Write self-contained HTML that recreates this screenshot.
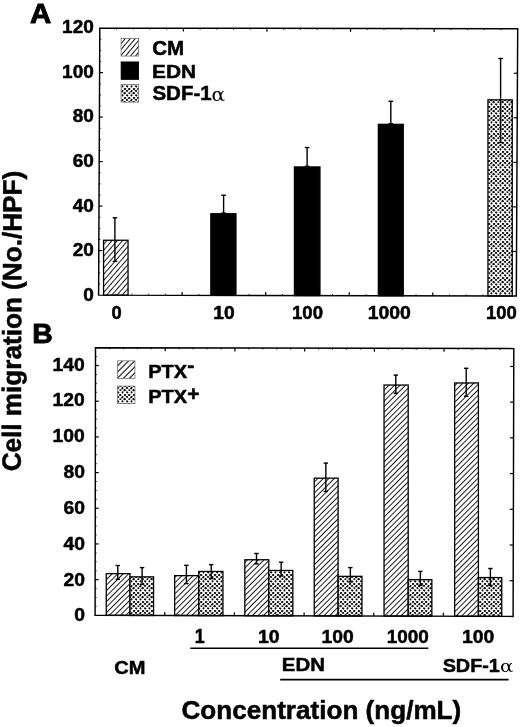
<!DOCTYPE html>
<html lang="en"><head><meta charset="utf-8"><title>Cell migration figure</title>
<style>
html,body{margin:0;padding:0;background:#fff;}
svg{display:block;filter:grayscale(1);}
</style></head><body>
<svg width="520" height="727" viewBox="0 0 520 727">
<defs>
<pattern id="hatch" width="3.9" height="3.9" patternUnits="userSpaceOnUse" patternTransform="rotate(-45)" shape-rendering="crispEdges">
<rect width="3.9" height="3.9" fill="#fff"/>
<line x1="-1" y1="1.95" x2="5" y2="1.95" stroke="#000" stroke-width="0.9"/>
</pattern>
<pattern id="hatchA" width="3.95" height="3.95" patternUnits="userSpaceOnUse" patternTransform="rotate(-49)" shape-rendering="crispEdges">
<rect width="3.95" height="3.95" fill="#fff"/>
<line x1="-1" y1="1.97" x2="5" y2="1.97" stroke="#000" stroke-width="0.9"/>
</pattern>
<pattern id="hatchLA" width="3.8" height="3.8" patternUnits="userSpaceOnUse" patternTransform="rotate(-50) translate(0 0.6)" shape-rendering="crispEdges">
<rect width="3.8" height="3.8" fill="#fff"/>
<line x1="-1" y1="1.9" x2="5" y2="1.9" stroke="#000" stroke-width="0.95"/>
</pattern>
<pattern id="hatchL" width="4.3" height="4.3" patternUnits="userSpaceOnUse" patternTransform="rotate(-45) translate(0 0)">
<rect width="4.3" height="4.3" fill="#fff"/>
<line x1="-1" y1="2.15" x2="5.3" y2="2.15" stroke="#000" stroke-width="1.1"/>
</pattern>
<pattern id="dots" width="9" height="9" patternUnits="userSpaceOnUse">
<rect width="9" height="9" fill="#fff"/>
<ellipse cx="1.02" cy="0.92" rx="1.26" ry="0.91" transform="rotate(0 1.02 0.92)" fill="#000"/>
<ellipse cx="1.02" cy="9.92" rx="1.26" ry="0.91" transform="rotate(0 1.02 9.92)" fill="#000"/>
<ellipse cx="10.02" cy="0.92" rx="1.26" ry="0.91" transform="rotate(0 10.02 0.92)" fill="#000"/>
<ellipse cx="10.02" cy="9.92" rx="1.26" ry="0.91" transform="rotate(0 10.02 9.92)" fill="#000"/>
<ellipse cx="5.38" cy="1.17" rx="1.33" ry="0.94" transform="rotate(-45 5.38 1.17)" fill="#000"/>
<ellipse cx="5.38" cy="10.17" rx="1.33" ry="0.94" transform="rotate(-45 5.38 10.17)" fill="#000"/>
<ellipse cx="3.34" cy="3.12" rx="1.12" ry="0.98" transform="rotate(0 3.34 3.12)" fill="#000"/>
<ellipse cx="-1.35" cy="3.21" rx="1.26" ry="1.09" transform="rotate(0 -1.35 3.21)" fill="#000"/>
<ellipse cx="7.65" cy="3.21" rx="1.26" ry="1.09" transform="rotate(0 7.65 3.21)" fill="#000"/>
<ellipse cx="1.18" cy="5.35" rx="1.16" ry="1.01" transform="rotate(45 1.18 5.35)" fill="#000"/>
<ellipse cx="10.18" cy="5.35" rx="1.16" ry="1.01" transform="rotate(45 10.18 5.35)" fill="#000"/>
<ellipse cx="5.50" cy="5.41" rx="1.13" ry="0.96" transform="rotate(90 5.50 5.41)" fill="#000"/>
<ellipse cx="3.18" cy="-1.08" rx="1.26" ry="0.97" transform="rotate(0 3.18 -1.08)" fill="#000"/>
<ellipse cx="3.18" cy="7.92" rx="1.26" ry="0.97" transform="rotate(0 3.18 7.92)" fill="#000"/>
<ellipse cx="-1.00" cy="-1.09" rx="1.25" ry="1.00" transform="rotate(0 -1.00 -1.09)" fill="#000"/>
<ellipse cx="-1.00" cy="7.91" rx="1.25" ry="1.00" transform="rotate(0 -1.00 7.91)" fill="#000"/>
<ellipse cx="8.00" cy="-1.09" rx="1.25" ry="1.00" transform="rotate(0 8.00 -1.09)" fill="#000"/>
<ellipse cx="8.00" cy="7.91" rx="1.25" ry="1.00" transform="rotate(0 8.00 7.91)" fill="#000"/>
</pattern>
</defs>
<rect width="520" height="727" fill="#fff"/>

<rect x="103.55" y="240.25" width="24.50" height="54.89" fill="url(#hatchA)" stroke="#000" stroke-width="1.3"/>
<line x1="114.90" y1="217.80" x2="114.90" y2="261.40" stroke="#000" stroke-width="1.4"/>
<line x1="112.60" y1="217.80" x2="117.20" y2="217.80" stroke="#000" stroke-width="1.4"/>
<line x1="112.60" y1="261.40" x2="117.20" y2="261.40" stroke="#000" stroke-width="1.4"/>
<rect x="210.85" y="213.75" width="25.10" height="81.62" fill="#000" stroke="#000" stroke-width="1.3"/>
<line x1="223.60" y1="195.20" x2="223.60" y2="213.10" stroke="#000" stroke-width="1.4"/>
<line x1="221.30" y1="195.20" x2="225.90" y2="195.20" stroke="#000" stroke-width="1.4"/>
<line x1="221.30" y1="213.10" x2="225.90" y2="213.10" stroke="#000" stroke-width="1.4"/>
<rect x="294.45" y="166.95" width="25.50" height="128.60" fill="#000" stroke="#000" stroke-width="1.3"/>
<line x1="307.10" y1="147.50" x2="307.10" y2="166.30" stroke="#000" stroke-width="1.4"/>
<line x1="304.80" y1="147.50" x2="309.40" y2="147.50" stroke="#000" stroke-width="1.4"/>
<line x1="304.80" y1="166.30" x2="309.40" y2="166.30" stroke="#000" stroke-width="1.4"/>
<rect x="378.35" y="124.35" width="24.90" height="171.38" fill="#000" stroke="#000" stroke-width="1.3"/>
<line x1="390.80" y1="101.30" x2="390.80" y2="123.70" stroke="#000" stroke-width="1.4"/>
<line x1="388.50" y1="101.30" x2="393.10" y2="101.30" stroke="#000" stroke-width="1.4"/>
<line x1="388.50" y1="123.70" x2="393.10" y2="123.70" stroke="#000" stroke-width="1.4"/>
<rect x="487.95" y="99.85" width="24.30" height="196.12" fill="url(#dots)" stroke="#000" stroke-width="1.3"/>
<line x1="500.60" y1="58.50" x2="500.60" y2="142.50" stroke="#000" stroke-width="1.4"/>
<line x1="498.30" y1="58.50" x2="502.90" y2="58.50" stroke="#000" stroke-width="1.4"/>
<line x1="498.30" y1="142.50" x2="502.90" y2="142.50" stroke="#000" stroke-width="1.4"/>
<polygon points="99.80,28.10 517.70,28.70 516.30,296.00 98.60,295.10" fill="none" stroke="#000" stroke-width="1.45" stroke-linejoin="miter"/>
<line x1="98.65" y1="283.98" x2="100.15" y2="283.98" stroke="#000" stroke-width="0.8"/>
<line x1="98.70" y1="272.85" x2="100.20" y2="272.85" stroke="#000" stroke-width="0.8"/>
<line x1="98.75" y1="261.73" x2="100.25" y2="261.73" stroke="#000" stroke-width="0.8"/>
<line x1="98.80" y1="250.60" x2="102.20" y2="250.60" stroke="#000" stroke-width="1.2"/>
<line x1="516.53" y1="251.45" x2="512.93" y2="251.45" stroke="#000" stroke-width="1.2"/>
<line x1="98.85" y1="239.48" x2="100.35" y2="239.48" stroke="#000" stroke-width="0.8"/>
<line x1="98.90" y1="228.35" x2="100.40" y2="228.35" stroke="#000" stroke-width="0.8"/>
<line x1="98.95" y1="217.23" x2="100.45" y2="217.23" stroke="#000" stroke-width="0.8"/>
<line x1="99.00" y1="206.10" x2="102.40" y2="206.10" stroke="#000" stroke-width="1.2"/>
<line x1="516.77" y1="206.90" x2="513.17" y2="206.90" stroke="#000" stroke-width="1.2"/>
<line x1="99.05" y1="194.98" x2="100.55" y2="194.98" stroke="#000" stroke-width="0.8"/>
<line x1="99.10" y1="183.85" x2="100.60" y2="183.85" stroke="#000" stroke-width="0.8"/>
<line x1="99.15" y1="172.73" x2="100.65" y2="172.73" stroke="#000" stroke-width="0.8"/>
<line x1="99.20" y1="161.60" x2="102.60" y2="161.60" stroke="#000" stroke-width="1.2"/>
<line x1="517.00" y1="162.35" x2="513.40" y2="162.35" stroke="#000" stroke-width="1.2"/>
<line x1="99.25" y1="150.48" x2="100.75" y2="150.48" stroke="#000" stroke-width="0.8"/>
<line x1="99.30" y1="139.35" x2="100.80" y2="139.35" stroke="#000" stroke-width="0.8"/>
<line x1="99.35" y1="128.23" x2="100.85" y2="128.23" stroke="#000" stroke-width="0.8"/>
<line x1="99.40" y1="117.10" x2="102.80" y2="117.10" stroke="#000" stroke-width="1.2"/>
<line x1="517.23" y1="117.80" x2="513.63" y2="117.80" stroke="#000" stroke-width="1.2"/>
<line x1="99.45" y1="105.98" x2="100.95" y2="105.98" stroke="#000" stroke-width="0.8"/>
<line x1="99.50" y1="94.85" x2="101.00" y2="94.85" stroke="#000" stroke-width="0.8"/>
<line x1="99.55" y1="83.73" x2="101.05" y2="83.73" stroke="#000" stroke-width="0.8"/>
<line x1="99.60" y1="72.60" x2="103.00" y2="72.60" stroke="#000" stroke-width="1.2"/>
<line x1="517.47" y1="73.25" x2="513.87" y2="73.25" stroke="#000" stroke-width="1.2"/>
<line x1="99.65" y1="61.48" x2="101.15" y2="61.48" stroke="#000" stroke-width="0.8"/>
<line x1="99.70" y1="50.35" x2="101.20" y2="50.35" stroke="#000" stroke-width="0.8"/>
<line x1="99.75" y1="39.23" x2="101.25" y2="39.23" stroke="#000" stroke-width="0.8"/>
<line x1="115.31" y1="295.14" x2="115.31" y2="293.64" stroke="#000" stroke-width="0.8"/>
<line x1="116.52" y1="28.12" x2="116.52" y2="29.62" stroke="#000" stroke-width="0.8"/>
<line x1="132.02" y1="295.17" x2="132.02" y2="293.67" stroke="#000" stroke-width="0.8"/>
<line x1="133.23" y1="28.15" x2="133.23" y2="29.65" stroke="#000" stroke-width="0.8"/>
<line x1="148.72" y1="295.21" x2="148.72" y2="293.71" stroke="#000" stroke-width="0.8"/>
<line x1="149.95" y1="28.17" x2="149.95" y2="29.67" stroke="#000" stroke-width="0.8"/>
<line x1="165.43" y1="295.24" x2="165.43" y2="293.74" stroke="#000" stroke-width="0.8"/>
<line x1="166.66" y1="28.20" x2="166.66" y2="29.70" stroke="#000" stroke-width="0.8"/>
<line x1="182.14" y1="295.28" x2="182.14" y2="291.88" stroke="#000" stroke-width="1.2"/>
<line x1="183.38" y1="28.22" x2="183.38" y2="31.62" stroke="#000" stroke-width="1.2"/>
<line x1="198.85" y1="295.32" x2="198.85" y2="293.82" stroke="#000" stroke-width="0.8"/>
<line x1="200.10" y1="28.24" x2="200.10" y2="29.74" stroke="#000" stroke-width="0.8"/>
<line x1="215.56" y1="295.35" x2="215.56" y2="293.85" stroke="#000" stroke-width="0.8"/>
<line x1="216.81" y1="28.27" x2="216.81" y2="29.77" stroke="#000" stroke-width="0.8"/>
<line x1="232.26" y1="295.39" x2="232.26" y2="293.89" stroke="#000" stroke-width="0.8"/>
<line x1="233.53" y1="28.29" x2="233.53" y2="29.79" stroke="#000" stroke-width="0.8"/>
<line x1="248.97" y1="295.42" x2="248.97" y2="293.92" stroke="#000" stroke-width="0.8"/>
<line x1="250.24" y1="28.32" x2="250.24" y2="29.82" stroke="#000" stroke-width="0.8"/>
<line x1="265.68" y1="295.46" x2="265.68" y2="292.06" stroke="#000" stroke-width="1.2"/>
<line x1="266.96" y1="28.34" x2="266.96" y2="31.74" stroke="#000" stroke-width="1.2"/>
<line x1="282.39" y1="295.50" x2="282.39" y2="294.00" stroke="#000" stroke-width="0.8"/>
<line x1="283.68" y1="28.36" x2="283.68" y2="29.86" stroke="#000" stroke-width="0.8"/>
<line x1="299.10" y1="295.53" x2="299.10" y2="294.03" stroke="#000" stroke-width="0.8"/>
<line x1="300.39" y1="28.39" x2="300.39" y2="29.89" stroke="#000" stroke-width="0.8"/>
<line x1="315.80" y1="295.57" x2="315.80" y2="294.07" stroke="#000" stroke-width="0.8"/>
<line x1="317.11" y1="28.41" x2="317.11" y2="29.91" stroke="#000" stroke-width="0.8"/>
<line x1="332.51" y1="295.60" x2="332.51" y2="294.10" stroke="#000" stroke-width="0.8"/>
<line x1="333.82" y1="28.44" x2="333.82" y2="29.94" stroke="#000" stroke-width="0.8"/>
<line x1="349.22" y1="295.64" x2="349.22" y2="292.24" stroke="#000" stroke-width="1.2"/>
<line x1="350.54" y1="28.46" x2="350.54" y2="31.86" stroke="#000" stroke-width="1.2"/>
<line x1="365.93" y1="295.68" x2="365.93" y2="294.18" stroke="#000" stroke-width="0.8"/>
<line x1="367.26" y1="28.48" x2="367.26" y2="29.98" stroke="#000" stroke-width="0.8"/>
<line x1="382.64" y1="295.71" x2="382.64" y2="294.21" stroke="#000" stroke-width="0.8"/>
<line x1="383.97" y1="28.51" x2="383.97" y2="30.01" stroke="#000" stroke-width="0.8"/>
<line x1="399.34" y1="295.75" x2="399.34" y2="294.25" stroke="#000" stroke-width="0.8"/>
<line x1="400.69" y1="28.53" x2="400.69" y2="30.03" stroke="#000" stroke-width="0.8"/>
<line x1="416.05" y1="295.78" x2="416.05" y2="294.28" stroke="#000" stroke-width="0.8"/>
<line x1="417.40" y1="28.56" x2="417.40" y2="30.06" stroke="#000" stroke-width="0.8"/>
<line x1="432.76" y1="295.82" x2="432.76" y2="292.42" stroke="#000" stroke-width="1.2"/>
<line x1="434.12" y1="28.58" x2="434.12" y2="31.98" stroke="#000" stroke-width="1.2"/>
<line x1="449.47" y1="295.86" x2="449.47" y2="294.36" stroke="#000" stroke-width="0.8"/>
<line x1="450.84" y1="28.60" x2="450.84" y2="30.10" stroke="#000" stroke-width="0.8"/>
<line x1="466.18" y1="295.89" x2="466.18" y2="294.39" stroke="#000" stroke-width="0.8"/>
<line x1="467.55" y1="28.63" x2="467.55" y2="30.13" stroke="#000" stroke-width="0.8"/>
<line x1="482.88" y1="295.93" x2="482.88" y2="294.43" stroke="#000" stroke-width="0.8"/>
<line x1="484.27" y1="28.65" x2="484.27" y2="30.15" stroke="#000" stroke-width="0.8"/>
<line x1="499.59" y1="295.96" x2="499.59" y2="294.46" stroke="#000" stroke-width="0.8"/>
<line x1="500.98" y1="28.68" x2="500.98" y2="30.18" stroke="#000" stroke-width="0.8"/>
<text transform="translate(83.36,301.12) scale(1.0298,1)" font-size="18.45" font-family="Liberation Sans, Arial, Helvetica, sans-serif" font-weight="bold" stroke="#000" stroke-width="0.5" stroke-linejoin="round">0</text>
<text transform="translate(72.72,256.42) scale(1.0298,1)" font-size="18.45" font-family="Liberation Sans, Arial, Helvetica, sans-serif" font-weight="bold" stroke="#000" stroke-width="0.5" stroke-linejoin="round">20</text>
<text transform="translate(72.72,211.72) scale(1.0298,1)" font-size="18.45" font-family="Liberation Sans, Arial, Helvetica, sans-serif" font-weight="bold" stroke="#000" stroke-width="0.5" stroke-linejoin="round">40</text>
<text transform="translate(72.72,167.02) scale(1.0298,1)" font-size="18.45" font-family="Liberation Sans, Arial, Helvetica, sans-serif" font-weight="bold" stroke="#000" stroke-width="0.5" stroke-linejoin="round">60</text>
<text transform="translate(72.72,122.32) scale(1.0298,1)" font-size="18.45" font-family="Liberation Sans, Arial, Helvetica, sans-serif" font-weight="bold" stroke="#000" stroke-width="0.5" stroke-linejoin="round">80</text>
<text transform="translate(62.08,77.62) scale(1.0298,1)" font-size="18.45" font-family="Liberation Sans, Arial, Helvetica, sans-serif" font-weight="bold" stroke="#000" stroke-width="0.5" stroke-linejoin="round">100</text>
<text transform="translate(62.08,32.92) scale(1.0298,1)" font-size="18.45" font-family="Liberation Sans, Arial, Helvetica, sans-serif" font-weight="bold" stroke="#000" stroke-width="0.5" stroke-linejoin="round">120</text>
<text transform="translate(111.62,319.17) scale(1.0071,1)" font-size="18.17" font-family="Liberation Sans, Arial, Helvetica, sans-serif" font-weight="bold" stroke="#000" stroke-width="0.5" stroke-linejoin="round">0</text>
<text transform="translate(213.30,319.17) scale(1.0572,1)" font-size="18.17" font-family="Liberation Sans, Arial, Helvetica, sans-serif" font-weight="bold" stroke="#000" stroke-width="0.5" stroke-linejoin="round">10</text>
<text transform="translate(292.04,319.17) scale(1.0201,1)" font-size="18.17" font-family="Liberation Sans, Arial, Helvetica, sans-serif" font-weight="bold" stroke="#000" stroke-width="0.5" stroke-linejoin="round">100</text>
<text transform="translate(367.69,319.17) scale(1.0670,1)" font-size="18.17" font-family="Liberation Sans, Arial, Helvetica, sans-serif" font-weight="bold" stroke="#000" stroke-width="0.5" stroke-linejoin="round">1000</text>
<text transform="translate(485.94,319.17) scale(1.0166,1)" font-size="18.17" font-family="Liberation Sans, Arial, Helvetica, sans-serif" font-weight="bold" stroke="#000" stroke-width="0.5" stroke-linejoin="round">100</text>
<rect x="121.05" y="38.45" width="17.60" height="17.60" fill="url(#hatchLA)" stroke="#666" stroke-width="0.7"/>
<rect x="121.15" y="61.95" width="17.40" height="17.40" fill="#000" stroke="#000" stroke-width="0.9"/>
<rect x="121.05" y="84.55" width="17.60" height="17.60" fill="url(#dots)" stroke="#666" stroke-width="0.7"/>
<text transform="translate(152.13,54.56) scale(1.0651,1)" font-size="19.30" font-family="Liberation Sans, Arial, Helvetica, sans-serif" font-weight="bold" stroke="#000" stroke-width="0.5" stroke-linejoin="round">CM</text>
<text transform="translate(151.99,77.55) scale(1.0906,1)" font-size="19.13" font-family="Liberation Sans, Arial, Helvetica, sans-serif" font-weight="bold" stroke="#000" stroke-width="0.5" stroke-linejoin="round">EDN</text>
<text transform="translate(152.44,99.95) scale(1.0469,1)" font-size="19.58" font-family="Liberation Sans, Arial, Helvetica, sans-serif" font-weight="bold" stroke="#000" stroke-width="0.5" stroke-linejoin="round">SDF-1</text>
<text transform="translate(211.59,100.62) scale(1.1227,1)" font-size="17.96" font-family="DejaVu Serif, Liberation Serif, serif">α</text>
<text transform="translate(30.07,22.83) scale(1.0632,1)" font-size="27.65" font-family="Liberation Sans, Arial, Helvetica, sans-serif" font-weight="bold" stroke="#000" stroke-width="0.9" stroke-linejoin="round">A</text>
<rect x="106.25" y="573.65" width="23.75" height="41.68" fill="url(#hatch)" stroke="#000" stroke-width="1.3"/>
<rect x="130.00" y="576.85" width="23.55" height="38.61" fill="url(#dots)" stroke="#000" stroke-width="1.3"/>
<line x1="117.80" y1="565.50" x2="117.80" y2="579.30" stroke="#000" stroke-width="1.4"/>
<line x1="115.60" y1="565.50" x2="120.00" y2="565.50" stroke="#000" stroke-width="1.4"/>
<line x1="115.60" y1="579.30" x2="120.00" y2="579.30" stroke="#000" stroke-width="1.4"/>
<line x1="142.10" y1="567.60" x2="142.10" y2="584.40" stroke="#000" stroke-width="1.4"/>
<line x1="139.90" y1="567.60" x2="144.30" y2="567.60" stroke="#000" stroke-width="1.4"/>
<line x1="139.90" y1="584.40" x2="144.30" y2="584.40" stroke="#000" stroke-width="1.4"/>
<rect x="174.65" y="575.65" width="24.15" height="39.86" fill="url(#hatch)" stroke="#000" stroke-width="1.3"/>
<rect x="198.80" y="571.45" width="24.15" height="44.19" fill="url(#dots)" stroke="#000" stroke-width="1.3"/>
<line x1="186.40" y1="565.30" x2="186.40" y2="583.60" stroke="#000" stroke-width="1.4"/>
<line x1="184.20" y1="565.30" x2="188.60" y2="565.30" stroke="#000" stroke-width="1.4"/>
<line x1="184.20" y1="583.60" x2="188.60" y2="583.60" stroke="#000" stroke-width="1.4"/>
<line x1="211.20" y1="564.60" x2="211.20" y2="578.50" stroke="#000" stroke-width="1.4"/>
<line x1="209.00" y1="564.60" x2="213.40" y2="564.60" stroke="#000" stroke-width="1.4"/>
<line x1="209.00" y1="578.50" x2="213.40" y2="578.50" stroke="#000" stroke-width="1.4"/>
<rect x="244.85" y="559.75" width="23.95" height="55.94" fill="url(#hatch)" stroke="#000" stroke-width="1.3"/>
<rect x="268.80" y="570.45" width="24.05" height="45.37" fill="url(#dots)" stroke="#000" stroke-width="1.3"/>
<line x1="256.50" y1="553.50" x2="256.50" y2="563.90" stroke="#000" stroke-width="1.4"/>
<line x1="254.30" y1="553.50" x2="258.70" y2="553.50" stroke="#000" stroke-width="1.4"/>
<line x1="254.30" y1="563.90" x2="258.70" y2="563.90" stroke="#000" stroke-width="1.4"/>
<line x1="281.15" y1="562.20" x2="281.15" y2="576.00" stroke="#000" stroke-width="1.4"/>
<line x1="278.95" y1="562.20" x2="283.35" y2="562.20" stroke="#000" stroke-width="1.4"/>
<line x1="278.95" y1="576.00" x2="283.35" y2="576.00" stroke="#000" stroke-width="1.4"/>
<rect x="314.25" y="478.15" width="23.85" height="137.73" fill="url(#hatch)" stroke="#000" stroke-width="1.3"/>
<rect x="338.10" y="576.35" width="23.85" height="39.65" fill="url(#dots)" stroke="#000" stroke-width="1.3"/>
<line x1="325.85" y1="463.10" x2="325.85" y2="491.50" stroke="#000" stroke-width="1.4"/>
<line x1="323.65" y1="463.10" x2="328.05" y2="463.10" stroke="#000" stroke-width="1.4"/>
<line x1="323.65" y1="491.50" x2="328.05" y2="491.50" stroke="#000" stroke-width="1.4"/>
<line x1="350.35" y1="567.60" x2="350.35" y2="582.00" stroke="#000" stroke-width="1.4"/>
<line x1="348.15" y1="567.60" x2="352.55" y2="567.60" stroke="#000" stroke-width="1.4"/>
<line x1="348.15" y1="582.00" x2="352.55" y2="582.00" stroke="#000" stroke-width="1.4"/>
<rect x="384.05" y="385.05" width="24.15" height="231.01" fill="url(#hatch)" stroke="#000" stroke-width="1.3"/>
<rect x="408.20" y="579.65" width="23.65" height="36.54" fill="url(#dots)" stroke="#000" stroke-width="1.3"/>
<line x1="395.80" y1="375.10" x2="395.80" y2="393.30" stroke="#000" stroke-width="1.4"/>
<line x1="393.60" y1="375.10" x2="398.00" y2="375.10" stroke="#000" stroke-width="1.4"/>
<line x1="393.60" y1="393.30" x2="398.00" y2="393.30" stroke="#000" stroke-width="1.4"/>
<line x1="420.35" y1="571.40" x2="420.35" y2="585.40" stroke="#000" stroke-width="1.4"/>
<line x1="418.15" y1="571.40" x2="422.55" y2="571.40" stroke="#000" stroke-width="1.4"/>
<line x1="418.15" y1="585.40" x2="422.55" y2="585.40" stroke="#000" stroke-width="1.4"/>
<rect x="454.65" y="382.95" width="23.75" height="233.29" fill="url(#hatch)" stroke="#000" stroke-width="1.3"/>
<rect x="478.40" y="577.55" width="23.35" height="38.82" fill="url(#dots)" stroke="#000" stroke-width="1.3"/>
<line x1="466.20" y1="368.30" x2="466.20" y2="396.30" stroke="#000" stroke-width="1.4"/>
<line x1="464.00" y1="368.30" x2="468.40" y2="368.30" stroke="#000" stroke-width="1.4"/>
<line x1="464.00" y1="396.30" x2="468.40" y2="396.30" stroke="#000" stroke-width="1.4"/>
<line x1="490.40" y1="568.50" x2="490.40" y2="585.40" stroke="#000" stroke-width="1.4"/>
<line x1="488.20" y1="568.50" x2="492.60" y2="568.50" stroke="#000" stroke-width="1.4"/>
<line x1="488.20" y1="585.40" x2="492.60" y2="585.40" stroke="#000" stroke-width="1.4"/>
<polygon points="95.50,347.70 513.80,348.60 513.10,616.40 95.10,615.30" fill="none" stroke="#000" stroke-width="1.45" stroke-linejoin="miter"/>
<line x1="95.11" y1="606.38" x2="96.61" y2="606.38" stroke="#000" stroke-width="0.8"/>
<line x1="95.13" y1="597.46" x2="96.63" y2="597.46" stroke="#000" stroke-width="0.8"/>
<line x1="95.14" y1="588.54" x2="96.64" y2="588.54" stroke="#000" stroke-width="0.8"/>
<line x1="95.15" y1="579.62" x2="98.55" y2="579.62" stroke="#000" stroke-width="1.2"/>
<line x1="513.19" y1="580.69" x2="509.59" y2="580.69" stroke="#000" stroke-width="1.2"/>
<line x1="95.17" y1="570.70" x2="96.67" y2="570.70" stroke="#000" stroke-width="0.8"/>
<line x1="95.18" y1="561.78" x2="96.68" y2="561.78" stroke="#000" stroke-width="0.8"/>
<line x1="95.19" y1="552.86" x2="96.69" y2="552.86" stroke="#000" stroke-width="0.8"/>
<line x1="95.21" y1="543.94" x2="98.61" y2="543.94" stroke="#000" stroke-width="1.2"/>
<line x1="513.29" y1="544.99" x2="509.69" y2="544.99" stroke="#000" stroke-width="1.2"/>
<line x1="95.22" y1="535.02" x2="96.72" y2="535.02" stroke="#000" stroke-width="0.8"/>
<line x1="95.23" y1="526.10" x2="96.73" y2="526.10" stroke="#000" stroke-width="0.8"/>
<line x1="95.25" y1="517.18" x2="96.75" y2="517.18" stroke="#000" stroke-width="0.8"/>
<line x1="95.26" y1="508.26" x2="98.66" y2="508.26" stroke="#000" stroke-width="1.2"/>
<line x1="513.38" y1="509.28" x2="509.78" y2="509.28" stroke="#000" stroke-width="1.2"/>
<line x1="95.27" y1="499.34" x2="96.77" y2="499.34" stroke="#000" stroke-width="0.8"/>
<line x1="95.29" y1="490.42" x2="96.79" y2="490.42" stroke="#000" stroke-width="0.8"/>
<line x1="95.30" y1="481.50" x2="96.80" y2="481.50" stroke="#000" stroke-width="0.8"/>
<line x1="95.31" y1="472.58" x2="98.71" y2="472.58" stroke="#000" stroke-width="1.2"/>
<line x1="513.47" y1="473.57" x2="509.87" y2="473.57" stroke="#000" stroke-width="1.2"/>
<line x1="95.33" y1="463.66" x2="96.83" y2="463.66" stroke="#000" stroke-width="0.8"/>
<line x1="95.34" y1="454.74" x2="96.84" y2="454.74" stroke="#000" stroke-width="0.8"/>
<line x1="95.35" y1="445.82" x2="96.85" y2="445.82" stroke="#000" stroke-width="0.8"/>
<line x1="95.37" y1="436.90" x2="98.77" y2="436.90" stroke="#000" stroke-width="1.2"/>
<line x1="513.57" y1="437.87" x2="509.97" y2="437.87" stroke="#000" stroke-width="1.2"/>
<line x1="95.38" y1="427.98" x2="96.88" y2="427.98" stroke="#000" stroke-width="0.8"/>
<line x1="95.39" y1="419.06" x2="96.89" y2="419.06" stroke="#000" stroke-width="0.8"/>
<line x1="95.41" y1="410.14" x2="96.91" y2="410.14" stroke="#000" stroke-width="0.8"/>
<line x1="95.42" y1="401.22" x2="98.82" y2="401.22" stroke="#000" stroke-width="1.2"/>
<line x1="513.66" y1="402.16" x2="510.06" y2="402.16" stroke="#000" stroke-width="1.2"/>
<line x1="95.43" y1="392.30" x2="96.93" y2="392.30" stroke="#000" stroke-width="0.8"/>
<line x1="95.45" y1="383.38" x2="96.95" y2="383.38" stroke="#000" stroke-width="0.8"/>
<line x1="95.46" y1="374.46" x2="96.96" y2="374.46" stroke="#000" stroke-width="0.8"/>
<line x1="95.47" y1="365.54" x2="98.87" y2="365.54" stroke="#000" stroke-width="1.2"/>
<line x1="513.75" y1="366.45" x2="510.15" y2="366.45" stroke="#000" stroke-width="1.2"/>
<line x1="95.49" y1="356.62" x2="96.99" y2="356.62" stroke="#000" stroke-width="0.8"/>
<line x1="109.03" y1="615.34" x2="109.03" y2="613.84" stroke="#000" stroke-width="0.8"/>
<line x1="109.44" y1="347.73" x2="109.44" y2="349.23" stroke="#000" stroke-width="0.8"/>
<line x1="122.97" y1="615.37" x2="122.97" y2="613.87" stroke="#000" stroke-width="0.8"/>
<line x1="123.39" y1="347.76" x2="123.39" y2="349.26" stroke="#000" stroke-width="0.8"/>
<line x1="136.90" y1="615.41" x2="136.90" y2="613.91" stroke="#000" stroke-width="0.8"/>
<line x1="137.33" y1="347.79" x2="137.33" y2="349.29" stroke="#000" stroke-width="0.8"/>
<line x1="150.83" y1="615.45" x2="150.83" y2="613.95" stroke="#000" stroke-width="0.8"/>
<line x1="151.27" y1="347.82" x2="151.27" y2="349.32" stroke="#000" stroke-width="0.8"/>
<line x1="164.77" y1="615.48" x2="164.77" y2="612.08" stroke="#000" stroke-width="1.2"/>
<line x1="165.22" y1="347.85" x2="165.22" y2="351.25" stroke="#000" stroke-width="1.2"/>
<line x1="178.70" y1="615.52" x2="178.70" y2="614.02" stroke="#000" stroke-width="0.8"/>
<line x1="179.16" y1="347.88" x2="179.16" y2="349.38" stroke="#000" stroke-width="0.8"/>
<line x1="192.63" y1="615.56" x2="192.63" y2="614.06" stroke="#000" stroke-width="0.8"/>
<line x1="193.10" y1="347.91" x2="193.10" y2="349.41" stroke="#000" stroke-width="0.8"/>
<line x1="206.57" y1="615.59" x2="206.57" y2="614.09" stroke="#000" stroke-width="0.8"/>
<line x1="207.05" y1="347.94" x2="207.05" y2="349.44" stroke="#000" stroke-width="0.8"/>
<line x1="220.50" y1="615.63" x2="220.50" y2="614.13" stroke="#000" stroke-width="0.8"/>
<line x1="220.99" y1="347.97" x2="220.99" y2="349.47" stroke="#000" stroke-width="0.8"/>
<line x1="234.43" y1="615.67" x2="234.43" y2="612.27" stroke="#000" stroke-width="1.2"/>
<line x1="234.93" y1="348.00" x2="234.93" y2="351.40" stroke="#000" stroke-width="1.2"/>
<line x1="248.37" y1="615.70" x2="248.37" y2="614.20" stroke="#000" stroke-width="0.8"/>
<line x1="248.88" y1="348.03" x2="248.88" y2="349.53" stroke="#000" stroke-width="0.8"/>
<line x1="262.30" y1="615.74" x2="262.30" y2="614.24" stroke="#000" stroke-width="0.8"/>
<line x1="262.82" y1="348.06" x2="262.82" y2="349.56" stroke="#000" stroke-width="0.8"/>
<line x1="276.23" y1="615.78" x2="276.23" y2="614.28" stroke="#000" stroke-width="0.8"/>
<line x1="276.76" y1="348.09" x2="276.76" y2="349.59" stroke="#000" stroke-width="0.8"/>
<line x1="290.17" y1="615.81" x2="290.17" y2="614.31" stroke="#000" stroke-width="0.8"/>
<line x1="290.71" y1="348.12" x2="290.71" y2="349.62" stroke="#000" stroke-width="0.8"/>
<line x1="304.10" y1="615.85" x2="304.10" y2="612.45" stroke="#000" stroke-width="1.2"/>
<line x1="304.65" y1="348.15" x2="304.65" y2="351.55" stroke="#000" stroke-width="1.2"/>
<line x1="318.03" y1="615.89" x2="318.03" y2="614.39" stroke="#000" stroke-width="0.8"/>
<line x1="318.59" y1="348.18" x2="318.59" y2="349.68" stroke="#000" stroke-width="0.8"/>
<line x1="331.97" y1="615.92" x2="331.97" y2="614.42" stroke="#000" stroke-width="0.8"/>
<line x1="332.54" y1="348.21" x2="332.54" y2="349.71" stroke="#000" stroke-width="0.8"/>
<line x1="345.90" y1="615.96" x2="345.90" y2="614.46" stroke="#000" stroke-width="0.8"/>
<line x1="346.48" y1="348.24" x2="346.48" y2="349.74" stroke="#000" stroke-width="0.8"/>
<line x1="359.83" y1="616.00" x2="359.83" y2="614.50" stroke="#000" stroke-width="0.8"/>
<line x1="360.42" y1="348.27" x2="360.42" y2="349.77" stroke="#000" stroke-width="0.8"/>
<line x1="373.77" y1="616.03" x2="373.77" y2="612.63" stroke="#000" stroke-width="1.2"/>
<line x1="374.37" y1="348.30" x2="374.37" y2="351.70" stroke="#000" stroke-width="1.2"/>
<line x1="387.70" y1="616.07" x2="387.70" y2="614.57" stroke="#000" stroke-width="0.8"/>
<line x1="388.31" y1="348.33" x2="388.31" y2="349.83" stroke="#000" stroke-width="0.8"/>
<line x1="401.63" y1="616.11" x2="401.63" y2="614.61" stroke="#000" stroke-width="0.8"/>
<line x1="402.25" y1="348.36" x2="402.25" y2="349.86" stroke="#000" stroke-width="0.8"/>
<line x1="415.57" y1="616.14" x2="415.57" y2="614.64" stroke="#000" stroke-width="0.8"/>
<line x1="416.20" y1="348.39" x2="416.20" y2="349.89" stroke="#000" stroke-width="0.8"/>
<line x1="429.50" y1="616.18" x2="429.50" y2="614.68" stroke="#000" stroke-width="0.8"/>
<line x1="430.14" y1="348.42" x2="430.14" y2="349.92" stroke="#000" stroke-width="0.8"/>
<line x1="443.43" y1="616.22" x2="443.43" y2="612.82" stroke="#000" stroke-width="1.2"/>
<line x1="444.08" y1="348.45" x2="444.08" y2="351.85" stroke="#000" stroke-width="1.2"/>
<line x1="457.37" y1="616.25" x2="457.37" y2="614.75" stroke="#000" stroke-width="0.8"/>
<line x1="458.03" y1="348.48" x2="458.03" y2="349.98" stroke="#000" stroke-width="0.8"/>
<line x1="471.30" y1="616.29" x2="471.30" y2="614.79" stroke="#000" stroke-width="0.8"/>
<line x1="471.97" y1="348.51" x2="471.97" y2="350.01" stroke="#000" stroke-width="0.8"/>
<line x1="485.23" y1="616.33" x2="485.23" y2="614.83" stroke="#000" stroke-width="0.8"/>
<line x1="485.91" y1="348.54" x2="485.91" y2="350.04" stroke="#000" stroke-width="0.8"/>
<line x1="499.17" y1="616.36" x2="499.17" y2="614.86" stroke="#000" stroke-width="0.8"/>
<line x1="499.86" y1="348.57" x2="499.86" y2="350.07" stroke="#000" stroke-width="0.8"/>
<text transform="translate(74.21,621.46) scale(1.0381,1)" font-size="18.59" font-family="Liberation Sans, Arial, Helvetica, sans-serif" font-weight="bold" stroke="#000" stroke-width="0.5" stroke-linejoin="round">0</text>
<text transform="translate(63.40,585.63) scale(1.0381,1)" font-size="18.59" font-family="Liberation Sans, Arial, Helvetica, sans-serif" font-weight="bold" stroke="#000" stroke-width="0.5" stroke-linejoin="round">20</text>
<text transform="translate(63.40,549.80) scale(1.0381,1)" font-size="18.59" font-family="Liberation Sans, Arial, Helvetica, sans-serif" font-weight="bold" stroke="#000" stroke-width="0.5" stroke-linejoin="round">40</text>
<text transform="translate(63.40,513.97) scale(1.0381,1)" font-size="18.59" font-family="Liberation Sans, Arial, Helvetica, sans-serif" font-weight="bold" stroke="#000" stroke-width="0.5" stroke-linejoin="round">60</text>
<text transform="translate(63.40,478.14) scale(1.0381,1)" font-size="18.59" font-family="Liberation Sans, Arial, Helvetica, sans-serif" font-weight="bold" stroke="#000" stroke-width="0.5" stroke-linejoin="round">80</text>
<text transform="translate(52.59,442.31) scale(1.0381,1)" font-size="18.59" font-family="Liberation Sans, Arial, Helvetica, sans-serif" font-weight="bold" stroke="#000" stroke-width="0.5" stroke-linejoin="round">100</text>
<text transform="translate(52.59,406.48) scale(1.0381,1)" font-size="18.59" font-family="Liberation Sans, Arial, Helvetica, sans-serif" font-weight="bold" stroke="#000" stroke-width="0.5" stroke-linejoin="round">120</text>
<text transform="translate(52.59,370.65) scale(1.0381,1)" font-size="18.59" font-family="Liberation Sans, Arial, Helvetica, sans-serif" font-weight="bold" stroke="#000" stroke-width="0.5" stroke-linejoin="round">140</text>
<text transform="translate(194.68,643.35) scale(0.9200,1)" font-size="19.42" font-family="Liberation Sans, Arial, Helvetica, sans-serif" font-weight="bold" stroke="#000" stroke-width="0.5" stroke-linejoin="round">1</text>
<text transform="translate(257.89,643.16) scale(1.0282,1)" font-size="18.87" font-family="Liberation Sans, Arial, Helvetica, sans-serif" font-weight="bold" stroke="#000" stroke-width="0.5" stroke-linejoin="round">10</text>
<text transform="translate(321.49,643.16) scale(1.0226,1)" font-size="18.87" font-family="Liberation Sans, Arial, Helvetica, sans-serif" font-weight="bold" stroke="#000" stroke-width="0.5" stroke-linejoin="round">100</text>
<text transform="translate(386.72,643.16) scale(1.0022,1)" font-size="18.87" font-family="Liberation Sans, Arial, Helvetica, sans-serif" font-weight="bold" stroke="#000" stroke-width="0.5" stroke-linejoin="round">1000</text>
<text transform="translate(461.99,643.16) scale(1.0260,1)" font-size="18.87" font-family="Liberation Sans, Arial, Helvetica, sans-serif" font-weight="bold" stroke="#000" stroke-width="0.5" stroke-linejoin="round">100</text>
<line x1="190.30" y1="648.20" x2="428.30" y2="648.20" stroke="#000" stroke-width="1.6"/>
<line x1="280.20" y1="679.60" x2="508.60" y2="679.60" stroke="#000" stroke-width="1.6"/>
<text transform="translate(114.15,673.76) scale(1.0714,1)" font-size="18.73" font-family="Liberation Sans, Arial, Helvetica, sans-serif" font-weight="bold" stroke="#000" stroke-width="0.5" stroke-linejoin="round">CM</text>
<text transform="translate(281.82,670.95) scale(1.0667,1)" font-size="19.13" font-family="Liberation Sans, Arial, Helvetica, sans-serif" font-weight="bold" stroke="#000" stroke-width="0.5" stroke-linejoin="round">EDN</text>
<text transform="translate(442.66,671.66) scale(1.0426,1)" font-size="19.01" font-family="Liberation Sans, Arial, Helvetica, sans-serif" font-weight="bold" stroke="#000" stroke-width="0.5" stroke-linejoin="round">SDF-1</text>
<text transform="translate(499.92,672.33) scale(1.1800,1)" font-size="16.67" font-family="DejaVu Serif, Liberation Serif, serif">α</text>
<rect x="117.35" y="360.85" width="17.60" height="17.60" fill="url(#hatchL)" stroke="#666" stroke-width="0.7"/>
<rect x="117.35" y="386.05" width="17.60" height="17.60" fill="url(#dots)" stroke="#666" stroke-width="0.7"/>
<text transform="translate(148.25,377.55) scale(1.0455,1)" font-size="19.13" font-family="Liberation Sans, Arial, Helvetica, sans-serif" font-weight="bold" stroke="#000" stroke-width="0.5" stroke-linejoin="round">PTX</text>
<text transform="translate(148.25,403.35) scale(1.0534,1)" font-size="18.99" font-family="Liberation Sans, Arial, Helvetica, sans-serif" font-weight="bold" stroke="#000" stroke-width="0.5" stroke-linejoin="round">PTX</text>
<text transform="translate(187.29,372.41) scale(1.0286,1)" font-size="21.00" font-family="Liberation Sans, Arial, Helvetica, sans-serif" font-weight="bold" stroke="#000" stroke-width="0.5" stroke-linejoin="round">-</text>
<text transform="translate(187.31,400.91) scale(1.0104,1)" font-size="20.78" font-family="Liberation Sans, Arial, Helvetica, sans-serif" font-weight="bold" stroke="#000" stroke-width="0.5" stroke-linejoin="round">+</text>
<text transform="translate(32.36,343.25) scale(1.0409,1)" font-size="27.25" font-family="Liberation Sans, Arial, Helvetica, sans-serif" font-weight="bold" stroke="#000" stroke-width="0.9" stroke-linejoin="round">B</text>
<text transform="translate(20.80,471.30) rotate(-89.86) scale(0.9822,1)" font-size="26.60" font-family="Liberation Sans, Arial, Helvetica, sans-serif" font-weight="bold" stroke="#000" stroke-width="0.5" stroke-linejoin="round">Cell migration (No./HPF)</text>
<text transform="translate(181.51,719.23) scale(1.0307,1)" font-size="25.32" font-family="Liberation Sans, Arial, Helvetica, sans-serif" font-weight="bold" stroke="#000" stroke-width="0.5" stroke-linejoin="round">Concentration (ng/mL)</text>
</svg>
</body></html>
